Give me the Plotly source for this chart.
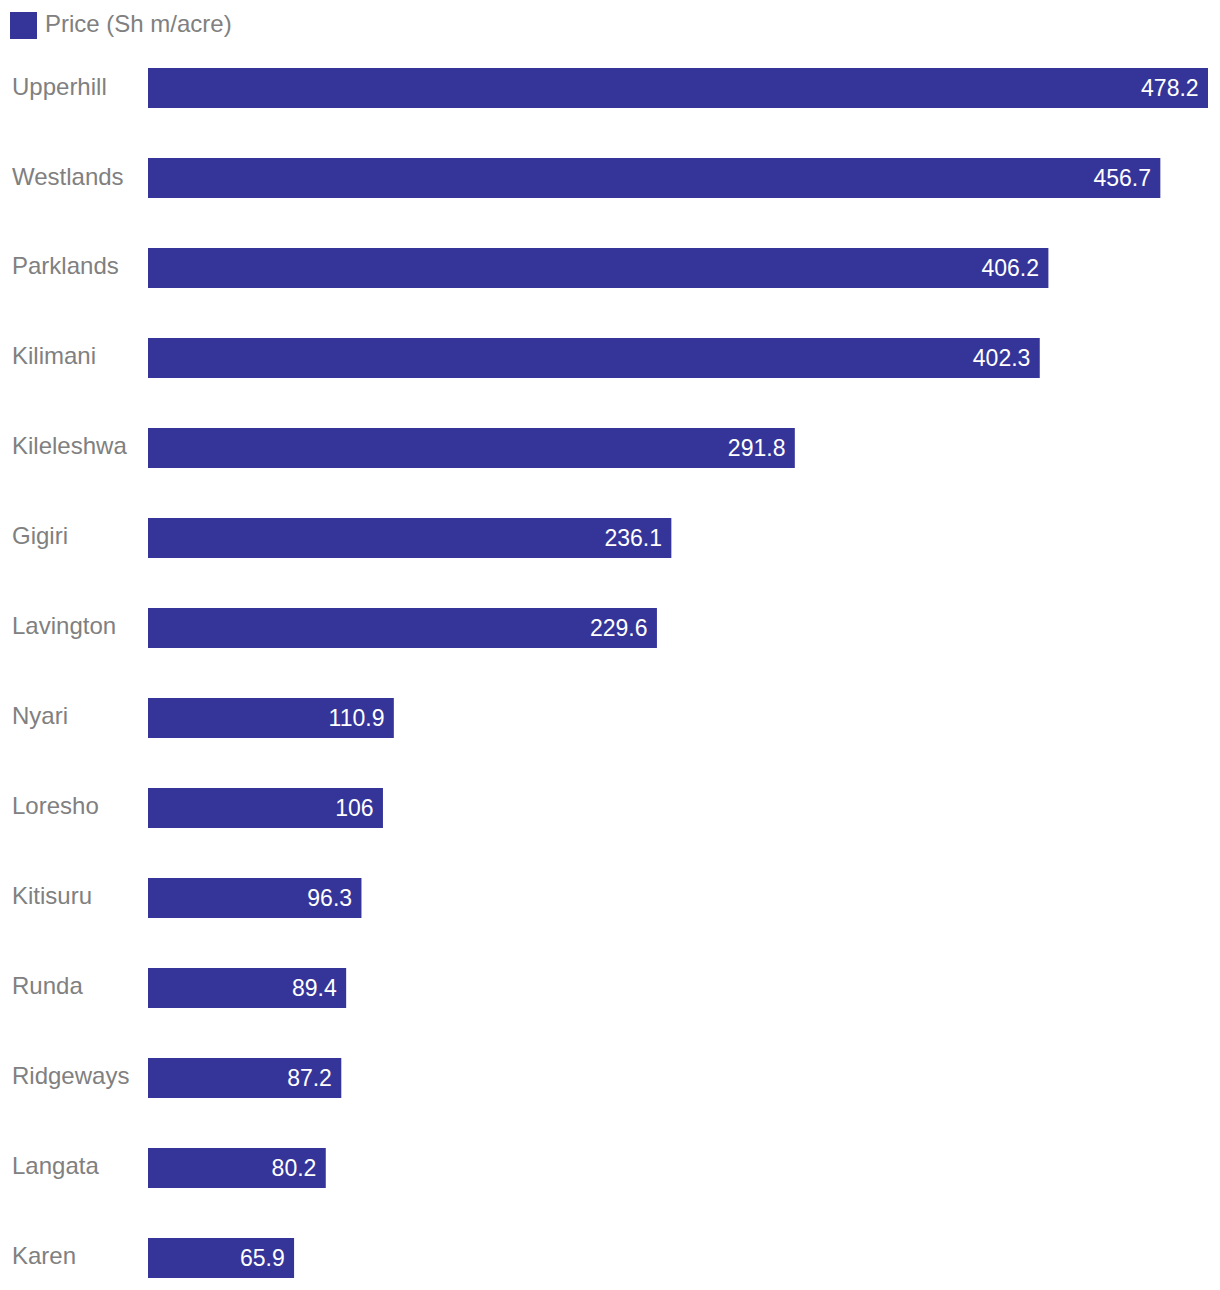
import plotly.graph_objects as go

categories = ["Upperhill", "Westlands", "Parklands", "Kilimani", "Kileleshwa", "Gigiri",
              "Lavington", "Nyari", "Loresho", "Kitisuru", "Runda", "Ridgeways", "Langata", "Karen"]
prices = [478.2, 456.7, 406.2, 402.3, 291.8, 236.1, 229.6, 110.9, 106, 96.3, 89.4, 87.2, 80.2, 65.9]
series_name = "Price (Sh m/acre)"

BAR = "#353599"
GREY = "#808080"
FONT = "Liberation Sans, Arial, Helvetica, sans-serif"
FS_VAL = 23
FS_LAB = 24

fig = go.Figure()
fig.add_trace(go.Bar(
    x=prices, y=categories, orientation="h",
    marker=dict(color=BAR, line=dict(width=0)),
    width=0.444,
    text=[f"{v:g}\u00a0" for v in prices],
    textposition="inside", insidetextanchor="end",
    textfont=dict(color="white", size=FS_VAL, family=FONT),
    name=series_name, showlegend=False, hoverinfo="x+y",
))

for c in categories:
    fig.add_annotation(x=0, xref="paper", xshift=-138, y=c, yref="y", yshift=2, text=c,
                       xanchor="left", yanchor="middle", showarrow=False,
                       font=dict(color=GREY, size=FS_LAB, family=FONT))

# legend
PW = 1060
PH = 1247
fig.add_shape(type="rect", xref="paper", yref="paper",
              x0=-138 / PW, x1=-111 / PW, y0=1 + 4 / PH, y1=1 + 31 / PH,
              fillcolor=BAR, line=dict(width=0))
fig.add_annotation(x=0, xref="paper", xshift=-105, y=1, yref="paper", yshift=20,
                   text=series_name, xanchor="left", yanchor="middle", showarrow=False,
                   font=dict(color=GREY, size=FS_LAB, family=FONT))

fig.update_layout(
    width=1212, height=1282,
    margin=dict(l=140, r=12, t=35, b=0),
    paper_bgcolor="white", plot_bgcolor="white",
    showlegend=False,
    uniformtext=dict(mode=False),
    xaxis=dict(range=[0, 478.2], visible=False, fixedrange=True),
    yaxis=dict(categoryorder="array", categoryarray=categories,
               range=[13.356, -0.5], showticklabels=False, showgrid=False,
               zeroline=False, fixedrange=True),
)

fig.write_html("out.html")
